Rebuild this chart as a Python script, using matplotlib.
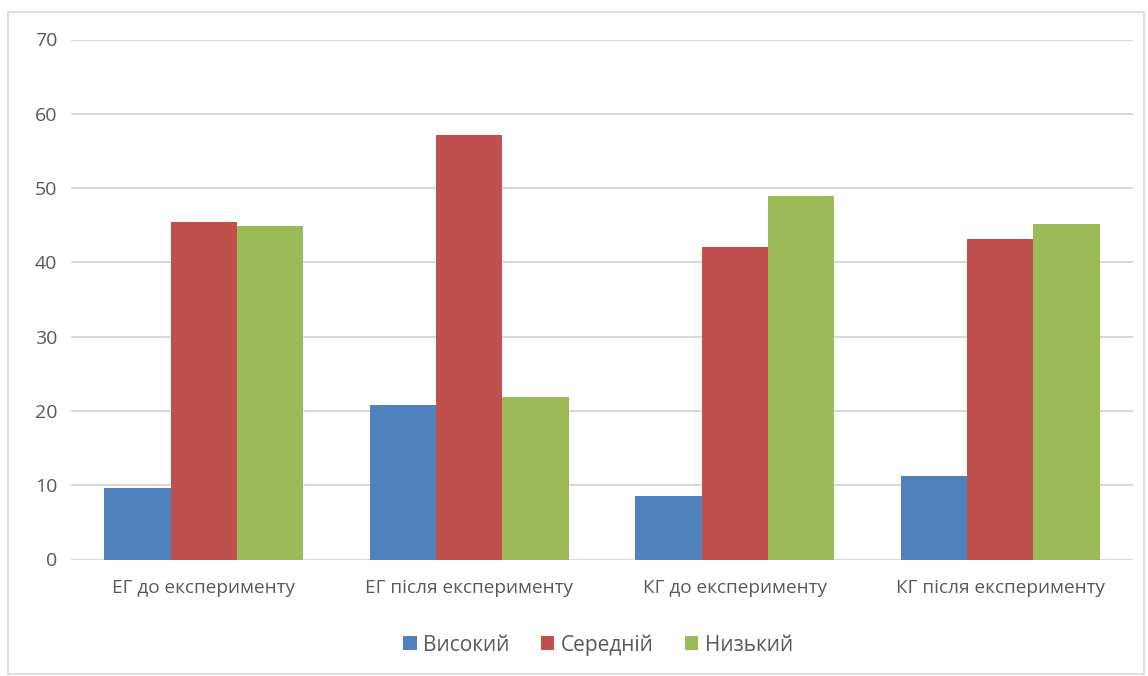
import numpy as np
import matplotlib.pyplot as plt
from matplotlib.patches import Rectangle

# Рівні сформованості по групах (%)
groups = ['ЕГ до експерименту', 'ЕГ після експерименту',
          'КГ до експерименту', 'КГ після експерименту']
levels = ['Високий', 'Середній', 'Низький']
high = [9.6, 20.8, 8.6, 11.2]
medium = [45.4, 57.2, 42.1, 43.2]
low = [44.9, 21.9, 49.0, 45.2]
colors = ['#4F81BD', '#C0504D', '#9BBB59']

plt.rcParams['font.family'] = ['Open Sans', 'DejaVu Sans']
text_color = '#595959'

fig = plt.figure(figsize=(11.48, 6.76), dpi=100)
ax = fig.add_axes([71 / 1148, 116.5 / 676, (1133 - 71) / 1148, 520 / 676])

x = np.arange(len(groups))
width = 0.25
for i, (vals, lab) in enumerate(zip([high, medium, low], levels)):
    ax.bar(x + (i - 1) * width, vals, width, color=colors[i], label=lab, zorder=2)

ax.set_xlim(-0.5, len(groups) - 0.5)
ax.set_ylim(0, 70)
ax.set_yticks(range(0, 71, 10))
ax.set_xticks(x)
ax.set_xticklabels(groups)
ax.yaxis.grid(True, color='#D9D9D9', linewidth=1.5, zorder=0)
ax.set_axisbelow(True)
for s in ax.spines.values():
    s.set_visible(False)
ax.tick_params(axis='both', length=0, labelcolor=text_color)
ax.tick_params(axis='y', pad=10, labelsize=14)
ax.tick_params(axis='x', pad=14, labelsize=13.7)

leg = fig.legend(loc='center', bbox_to_anchor=(598 / 1148, 1 - 645 / 676), ncol=3,
                 frameon=False, fontsize=15, handlelength=0.65, handleheight=0.65,
                 handletextpad=0.3, columnspacing=1.5)
for t in leg.get_texts():
    t.set_color(text_color)

# рамка навколо діаграми
fig.patches.append(Rectangle((8 / 1148, 2 / 676), 1136 / 1148, 662 / 676,
                             transform=fig.transFigure, fill=False,
                             edgecolor='#D9D9D9', linewidth=1.2))

fig.savefig('out.png', dpi=100, facecolor='white')
